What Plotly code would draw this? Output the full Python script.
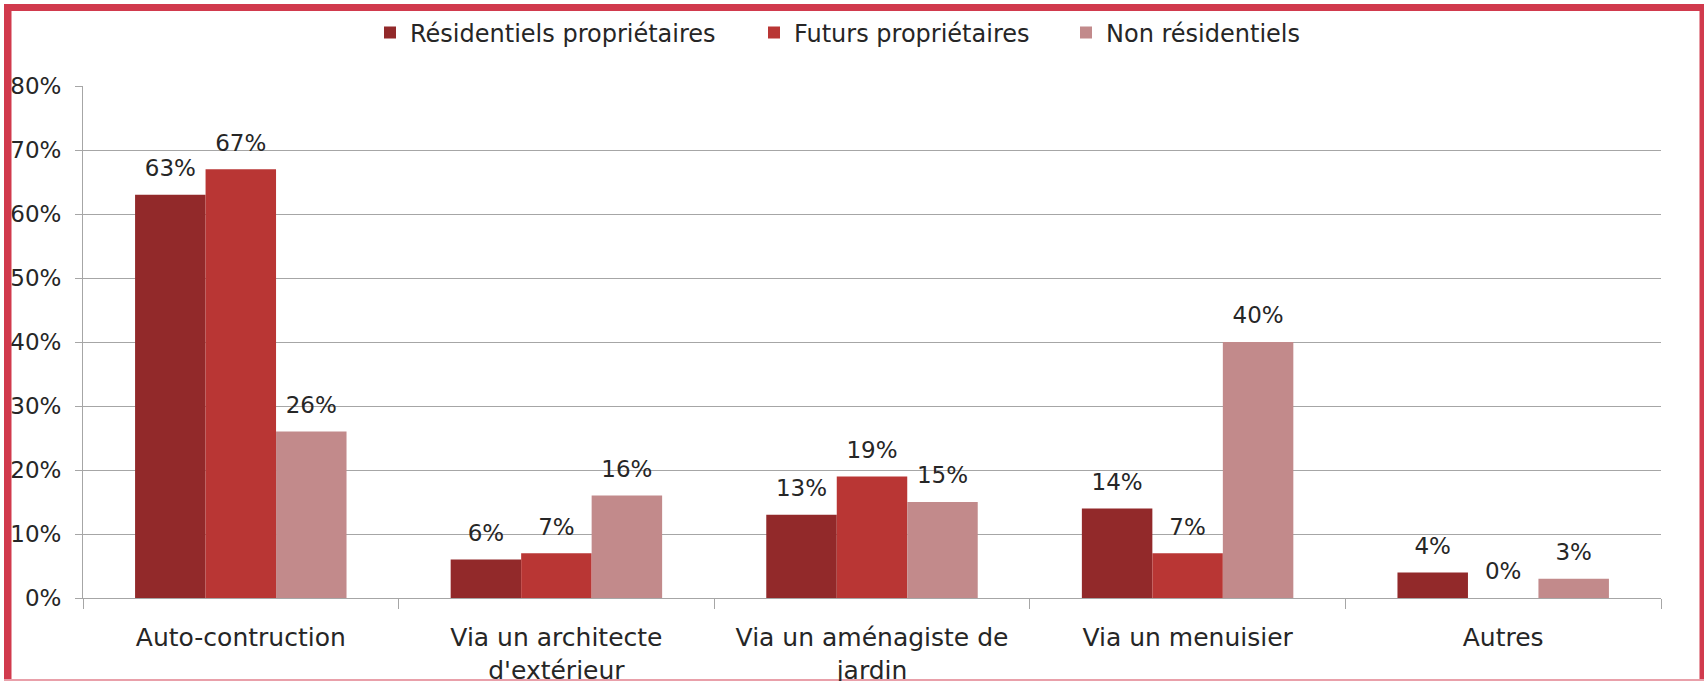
import plotly.graph_objects as go

categories = ["Auto-contruction", "Via un architecte<br>d'extérieur",
              "Via un aménagiste de<br>jardin", "Via un menuisier", "Autres"]
series_names = ["Résidentiels propriétaires", "Futurs propriétaires", "Non résidentiels"]
residentiels = [63, 6, 13, 14, 4]
futurs = [67, 7, 19, 7, 0]
non_residentiels = [26, 16, 15, 40, 3]
series_colors = ["#92292A", "#B93634", "#C28A8B"]
y_ticks = [0, 10, 20, 30, 40, 50, 60, 70, 80]
y_tick_labels = [f"{v}%" for v in y_ticks]

W, H = 1704, 681
ML, MR, MT, MB = 83, 43, 86, 83
PW, PH = W - ML - MR, H - MT - MB
FONT = "DejaVu Sans"
TEXT_COLOR = "#262626"
GRID = "#A6A6A6"
BORDER = "#D13A4D"
LEGEND_TEXT_X = [412, 796, 1108]


def px_x(p):
    return (p - ML) / PW


def px_y(p):
    return (H - MB - p) / PH


fig = go.Figure()
all_vals = [residentiels, futurs, non_residentiels]
for i, (name, vals, col) in enumerate(zip(series_names, all_vals, series_colors)):
    lg = "legend" if i == 0 else f"legend{i + 1}"
    fig.add_trace(go.Bar(
        name=name, x=categories, y=vals,
        marker=dict(color=col, line=dict(width=0)),
        offsetgroup=str(i), legend=lg,
    ))
for i, (name, vals) in enumerate(zip(series_names, all_vals)):
    fig.add_trace(go.Scatter(
        name=name, x=categories, y=vals, mode="markers+text",
        marker=dict(size=19, color="rgba(0,0,0,0)"),
        text=[f"{v}%" for v in vals], textposition="top center",
        textfont=dict(family=FONT, size=23, color=TEXT_COLOR),
        offsetgroup=str(i), showlegend=False, cliponaxis=False,
        hoverinfo="skip",
    ))

shapes = [
    dict(type="rect", xref="paper", yref="paper", x0=px_x(4), x1=px_x(11.5), y0=px_y(681), y1=px_y(4),
         fillcolor=BORDER, line=dict(width=0), layer="below"),
    dict(type="rect", xref="paper", yref="paper", x0=px_x(4), x1=px_x(1704), y0=px_y(11), y1=px_y(4),
         fillcolor=BORDER, line=dict(width=0), layer="below"),
    dict(type="rect", xref="paper", yref="paper", x0=px_x(1699.5), x1=px_x(1704), y0=px_y(681), y1=px_y(4),
         fillcolor=BORDER, line=dict(width=0), layer="below"),
    dict(type="rect", xref="paper", yref="paper", x0=px_x(4), x1=px_x(1704), y0=px_y(681), y1=px_y(679),
         fillcolor="#E9A0AA", line=dict(width=0), layer="below"),
]

legend_common = dict(orientation="h", xanchor="left", xref="container", yref="container",
                     y=1 - 33 / H, yanchor="middle", itemwidth=30,
                     font=dict(family=FONT, size=24, color=TEXT_COLOR),
                     bgcolor="rgba(0,0,0,0)")
legends = {}
for i, tx in enumerate(LEGEND_TEXT_X):
    key = "legend" if i == 0 else f"legend{i + 1}"
    legends[key] = dict(legend_common, x=(tx - 42) / W)

fig.update_layout(
    width=W, height=H,
    margin=dict(l=ML, r=MR, t=MT, b=MB),
    paper_bgcolor="white", plot_bgcolor="white",
    barmode="group", bargap=0.33, bargroupgap=0,
    scattermode="group", scattergap=0.33,
    font=dict(family=FONT, size=23, color=TEXT_COLOR),
    showlegend=True,
    shapes=shapes,
    **legends,
)
fig.update_yaxes(range=[0, 80], tickvals=y_ticks, ticktext=y_tick_labels,
                 showgrid=True, gridcolor=GRID, gridwidth=1,
                 showline=True, linecolor=GRID, linewidth=1,
                 ticks="outside", ticklen=7, tickcolor=GRID,
                 ticklabelstandoff=9, zeroline=False, automargin=False,
                 tickfont=dict(family=FONT, size=23, color=TEXT_COLOR))
fig.update_xaxes(showline=True, linecolor=GRID, linewidth=1,
                 ticks="outside", tickson="boundaries", ticklen=10, tickcolor=GRID,
                 ticklabelstandoff=17, automargin=False,
                 tickfont=dict(family=FONT, size=25, color=TEXT_COLOR))

fig.write_html("out.html", config={"displayModeBar": False},
               post_script="document.body.style.margin='0';")
